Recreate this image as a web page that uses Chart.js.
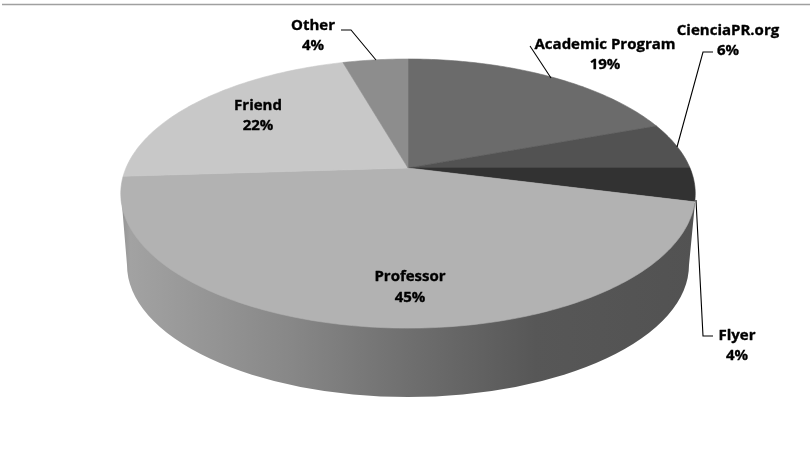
<!DOCTYPE html>
<html>
<head>
<meta charset="utf-8">
<script src="https://cdn.jsdelivr.net/npm/chart.js@4"></script>
<style>html,body{margin:0;padding:0;background:#fff;overflow:hidden}canvas{display:block}</style>
</head>
<body>
<canvas id="c" width="810" height="462"></canvas>
<script>
const categories = ["Academic Program", "CienciaPR.org", "Flyer", "Professor", "Friend", "Other"];
const shares = [19.4, 5.6, 4, 45, 21.6, 4.4];
const sliceColors = ["#6b6b6b", "#525252", "#323232", "#b2b2b2", "#c8c8c8", "#8d8d8d"];

const view = { cx: 408, cy: 168, a: 282, b: 129.7, k: 0.19 };
const base = { cx: 408, cy: 265, rx: 281, ry: 132, topLeft: [121, 193], topRight: [695, 203] };
const labelPlaces = [[605, 44.7], [728, 30.7], [737, 335.7], [410, 277], [258, 105.5], [313, 25.5]];
const leaders = [
  [[530, 46], [551, 78]],
  [[713, 52], [703, 52], [677, 147]],
  [[696, 200], [703, 336], [713, 336]],
  null, null,
  [[341, 30], [351, 30], [376, 60]]
];
const wallStops = [[0, "#8f8f8f"], [0.02, "#a2a2a2"], [0.3, "#878787"], [0.5, "#6f6f6f"], [0.72, "#575757"], [1, "#525252"]];

function project(theta) {
  const u = Math.sin(theta), v = -Math.cos(theta), w = 1 - view.k * v;
  return [view.cx + view.a * u / w, view.cy + view.b * v / w];
}

const pie3d = {
  id: "pie3d",
  beforeDatasetDraw(chart) {
    const ctx = chart.ctx;
    const arcs = chart.getDatasetMeta(0).data;

    // page rule
    ctx.save();
    ctx.strokeStyle = "#a0a0a0"; ctx.lineWidth = 1.4;
    ctx.beginPath(); ctx.moveTo(2, 4.5); ctx.lineTo(810, 4.5); ctx.stroke();

    // side wall
    const g = ctx.createLinearGradient(base.cx - base.rx - 8, 0, base.cx + base.rx + 8, 0);
    wallStops.forEach(s => g.addColorStop(s[0], s[1]));
    ctx.fillStyle = g;
    ctx.beginPath();
    ctx.moveTo(base.topLeft[0], base.topLeft[1]);
    ctx.lineTo(base.cx - base.rx, base.cy);
    ctx.ellipse(base.cx, base.cy, base.rx, base.ry, 0, Math.PI, 0, true);
    ctx.lineTo(base.topRight[0], base.topRight[1]);
    ctx.closePath();
    ctx.fill();

    // top face, from the arc geometry computed by the pie controller
    arcs.forEach((arc, i) => {
      const s = arc.startAngle + Math.PI / 2, e = arc.endAngle + Math.PI / 2;
      ctx.beginPath();
      ctx.moveTo(view.cx, view.cy);
      const n = Math.max(4, Math.ceil((e - s) * 60));
      for (let j = 0; j <= n; j++) {
        const p = project(s + (e - s) * j / n);
        ctx.lineTo(p[0], p[1]);
      }
      ctx.closePath();
      ctx.fillStyle = arc.options.backgroundColor;
      ctx.strokeStyle = arc.options.backgroundColor;
      ctx.lineWidth = 0.6;
      ctx.fill(); ctx.stroke();
    });

    // leader lines
    ctx.strokeStyle = "#000"; ctx.lineWidth = 1.1;
    leaders.forEach(pts => {
      if (!pts) return;
      ctx.beginPath();
      pts.forEach((p, j) => j ? ctx.lineTo(p[0], p[1]) : ctx.moveTo(p[0], p[1]));
      ctx.stroke();
    });

    // labels
    ctx.fillStyle = "#000";
    ctx.strokeStyle = "#000"; ctx.lineWidth = 0.35; ctx.lineJoin = "round";
    ctx.font = "bold 15px 'Open Sans'";
    ctx.textAlign = "center"; ctx.textBaseline = "middle";
    categories.forEach((name, i) => {
      const [x, y] = labelPlaces[i];
      const pct = Math.round(shares[i]) + "%";
      ctx.fillText(name, x, y); ctx.strokeText(name, x, y);
      ctx.fillText(pct, x, y + 20.5); ctx.strokeText(pct, x, y + 20.5);
    });
    ctx.restore();
    return false;
  }
};

new Chart(document.getElementById("c"), {
  type: "pie",
  data: { labels: categories, datasets: [{ data: shares, backgroundColor: sliceColors, borderWidth: 0 }] },
  options: {
    responsive: false,
    animation: false,
    rotation: 0,
    plugins: { legend: { display: false }, tooltip: { enabled: false } }
  },
  plugins: [pie3d]
});
</script>
</body>
</html>
